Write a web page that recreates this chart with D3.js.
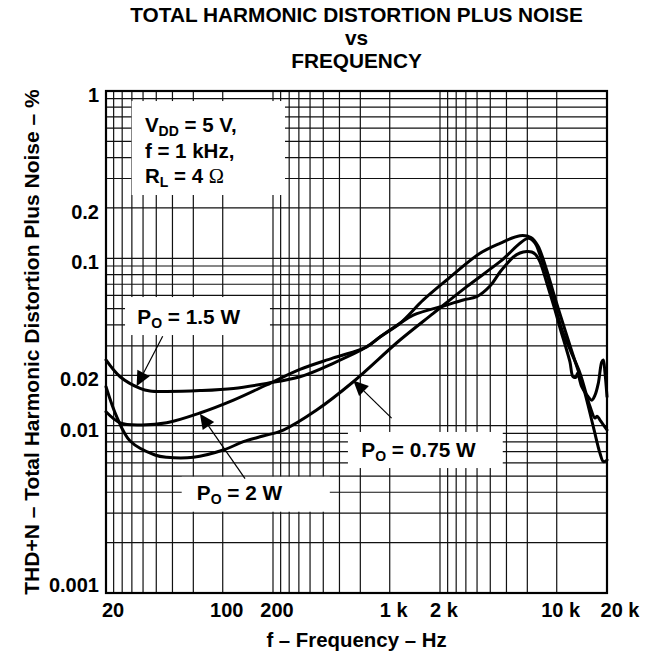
<!DOCTYPE html>
<html><head><meta charset="utf-8">
<script src="https://cdn.jsdelivr.net/npm/d3@7/dist/d3.min.js"></script>
<style>
body{margin:0;background:#fff;}
svg text{font-family:"Liberation Sans",Arial,Helvetica,sans-serif;font-weight:bold;fill:#000;}
</style></head><body>
<svg id="chart" width="653" height="658"></svg>
<script>
// ---------- data ----------
const xTickValues = [20, 100, 200, 1000, 2000, 10000, 20000];
const xTickLabels = ["20", "100", "200", "1 k", "2 k", "10 k", "20 k"];
const yTickValues = [1, 0.2, 0.1, 0.02, 0.01, 0.001];
const yTickLabels = ["1", "0.2", "0.1", "0.02", "0.01", "0.001"];

const seriesNames = ["PO = 1.5 W", "PO = 2 W", "PO = 0.75 W"];

const freq_1p5W = [20, 24.3, 32, 36.7, 46.2, 73.1, 116, 183, 290, 459, 728, 874, 1152, 1384, 2193, 2757, 3318, 3985, 4575, 5019, 5496, 6027, 6611, 7082, 7514, 7941, 8868, 9765, 10466, 11368, 12008, 12516, 13045, 13317, 14114, 14978, 16203, 16947, 17738, 18591, 19000, 19457, 20000];
const thd_1p5W  = [0.0247, 0.0196, 0.0167, 0.0161, 0.0160, 0.0162, 0.0167, 0.0179, 0.0196, 0.0236, 0.0296, 0.0339, 0.0409, 0.0458, 0.0526, 0.0564, 0.0590, 0.0683, 0.0829, 0.0925, 0.1018, 0.1076, 0.1098, 0.1091, 0.1047, 0.0951, 0.0674, 0.0491, 0.0383, 0.0291, 0.0240, 0.0196, 0.0195, 0.0206, 0.0171, 0.0155, 0.0142, 0.0152, 0.0179, 0.0240, 0.0247, 0.0206, 0.0149];

const freq_2W = [20, 24.3, 32, 46.2, 73.1, 116, 183, 290, 459, 728, 874, 1152, 1589, 2193, 3472, 4575, 6027, 7013, 7724, 8626, 9765, 11211, 12690, 14430, 16557, 18160, 19053, 20000];
const thd_2W  = [0.0121, 0.0104, 0.0101, 0.0104, 0.0119, 0.0142, 0.0175, 0.0217, 0.0254, 0.0296, 0.0339, 0.0409, 0.0564, 0.0742, 0.1072, 0.1230, 0.1365, 0.1332, 0.1185, 0.0876, 0.0579, 0.0373, 0.0254, 0.0170, 0.00986, 0.00684, 0.00609, 0.00623];

const freq_0p75W = [20, 23.2, 27.9, 39.3, 46.2, 66.7, 100.8, 132.9, 174, 230.5, 365, 605, 1152, 1823, 2891, 4575, 6757, 7411, 7941, 8868, 9765, 10758, 12175, 13787, 15826, 16947, 17422, 18160, 20000];
const thd_0p75W  = [0.0171, 0.0113, 0.0081, 0.00668, 0.00647, 0.00647, 0.00715, 0.00802, 0.00867, 0.00942, 0.0124, 0.0183, 0.0325, 0.0469, 0.0677, 0.0955, 0.1317, 0.1235, 0.1047, 0.0763, 0.0526, 0.0373, 0.0276, 0.0206, 0.0130, 0.0111, 0.0114, 0.0108, 0.00942];

// ---------- layout ----------
const L = 106, R = 607, T = 91, B = 593;
const svg = d3.select("#chart");
const x = d3.scaleLog().domain([20, 20000]).range([L, R]);
const y = d3.scaleLog().domain([0.001, 1]).range([B, T]);

// grid: x uses decade/k subdivisions, y uses standard k*decade
const xDecades = [20, 200, 2000];
const xSub = [1, 10/9, 10/8, 10/7, 10/6, 10/5, 10/4, 10/3, 10/2];
const xGrid = xDecades.flatMap(d => xSub.map(m => d * m)).concat([20000]);
const yDecades = [0.001, 0.01, 0.1];
const ySub = [1, 2, 3, 4, 5, 6, 7, 8, 9];
const yGrid = yDecades.flatMap(d => ySub.map(k => d * k)).concat([1]);

const g = svg.append("g");
g.selectAll("line.vx").data(xGrid).join("line")
  .attr("x1", d => x(d)).attr("x2", d => x(d)).attr("y1", T).attr("y2", B)
  .attr("stroke", "#111").attr("stroke-width", 1.2);
g.selectAll("line.hy").data(yGrid).join("line")
  .attr("y1", d => y(d)).attr("y2", d => y(d)).attr("x1", L).attr("x2", R)
  .attr("stroke", "#111").attr("stroke-width", 1.2);

// white annotation boxes (data coordinates)
const boxes = [
  {f0: 28.5, f1: 236, v0: 0.871, v1: 0.239},
  {f0: 26.0, f1: 191.8, v0: 0.0587, v1: 0.0348},
  {f0: 56.8, f1: 437.8, v0: 0.00495, v1: 0.00306},
  {f0: 562, f1: 4752, v0: 0.00917, v1: 0.00558}
];
svg.selectAll("rect.box").data(boxes).join("rect")
  .attr("x", d => x(d.f0)).attr("y", d => y(d.v0))
  .attr("width", d => x(d.f1) - x(d.f0)).attr("height", d => y(d.v1) - y(d.v0))
  .attr("fill", "#fff");

// curves
const series = [
  {f: freq_1p5W, v: thd_1p5W},
  {f: freq_2W, v: thd_2W},
  {f: freq_0p75W, v: thd_0p75W}
];
const line = d3.line().x(d => x(d[0])).y(d => y(d[1])).curve(d3.curveCatmullRom.alpha(0.5));
svg.selectAll("path.curve").data(series).join("path")
  .attr("d", s => line(s.f.map((f, i) => [f, s.v[i]])))
  .attr("fill", "none").attr("stroke", "#000").attr("stroke-width", 3)
  .attr("stroke-linejoin", "round").attr("stroke-linecap", "round");

// arrows (tail -> tip), data coordinates
const arrows = [
  {tf: 43.7, tv: 0.0342, hf: 30.5, hv: 0.0172},
  {tf: 136, tv: 0.00482, hf: 73, hv: 0.0118},
  {tf: 1026, tv: 0.0111, hf: 605, hv: 0.0186}
];
arrows.forEach(a => {
  const x0 = x(a.tf), y0 = y(a.tv), x1 = x(a.hf), y1 = y(a.hv);
  const ang = Math.atan2(y1 - y0, x1 - x0);
  const len = 15, hw = 7;
  const bx = x1 - len * Math.cos(ang), by = y1 - len * Math.sin(ang);
  svg.append("line").attr("x1", x0).attr("y1", y0).attr("x2", bx).attr("y2", by)
    .attr("stroke", "#000").attr("stroke-width", 1.2);
  const px = -Math.sin(ang) * hw, py = Math.cos(ang) * hw;
  svg.append("path")
    .attr("d", `M${x1},${y1}L${bx + px},${by + py}L${bx - px},${by - py}Z`)
    .attr("fill", "#000");
});

// plot border
svg.append("rect").attr("x", L).attr("y", T).attr("width", R - L).attr("height", B - T)
  .attr("fill", "none").attr("stroke", "#000").attr("stroke-width", 2.2);

// axis tick labels
svg.selectAll("text.xt").data(xTickValues).join("text")
  .attr("x", (d, i) => x(d) + (i === xTickValues.length - 1 ? 13 : (i === 0 ? 7 : 4)))
  .attr("y", 617).attr("text-anchor", "middle").attr("font-size", 20)
  .text((d, i) => xTickLabels[i]);
svg.selectAll("text.yt").data(yTickValues).join("text")
  .attr("x", 99).attr("y", d => y(d) + (d === 0.001 ? -1 : 11))
  .attr("text-anchor", "end").attr("font-size", 20)
  .text((d, i) => yTickLabels[i]);

// axis titles
svg.append("text").attr("x", (L + R) / 2).attr("y", 647).attr("text-anchor", "middle")
  .attr("font-size", 20.4).text("f – Frequency – Hz");
svg.append("text").attr("transform", `translate(39,${(T + B) / 2}) rotate(-90)`)
  .attr("text-anchor", "middle").attr("font-size", 21)
  .text("THD+N – Total Harmonic Distortion Plus Noise – %");

// title
const titleLines = ["TOTAL HARMONIC DISTORTION PLUS NOISE", "vs", "FREQUENCY"];
const titleY = [21.5, 44.9, 68.3];
titleLines.forEach((t, i) => svg.append("text").attr("x", (L + R) / 2).attr("y", titleY[i])
  .attr("text-anchor", "middle").attr("font-size", 20.8).text(t));

// helper: main text + subscript + rest
function addSub(t, main, sub, rest) {
  t.append("tspan").text(main);
  t.append("tspan").attr("font-size", 14).attr("dy", 4).text(sub);
  t.append("tspan").attr("dy", -4).text(rest);
  return t;
}
const cx = x(34.2);
addSub(svg.append("text").attr("x", cx).attr("y", y(0.571)).attr("font-size", 20.5), "V", "DD", " = 5 V,");
svg.append("text").attr("x", cx).attr("y", y(0.4)).attr("font-size", 20.5).text("f = 1 kHz,");
const rl = addSub(svg.append("text").attr("x", cx).attr("y", y(0.281)).attr("font-size", 20.5), "R", "L", " = 4 ");
rl.append("tspan").style("font-family", "'Liberation Serif','DejaVu Serif',serif")
  .style("font-weight", "normal").text("Ω");

// series labels
const lab = [
  {f: 30.8, v: 0.0405, w: " = 1.5 W"},
  {f: 69.9, v: 0.0036, w: " = 2 W"},
  {f: 676, v: 0.00652, w: " = 0.75 W"}
];
lab.forEach(d => {
  addSub(svg.append("text").attr("x", x(d.f)).attr("y", y(d.v)).attr("font-size", 20.8), "P", "O", d.w);
});
</script>
</body></html>
